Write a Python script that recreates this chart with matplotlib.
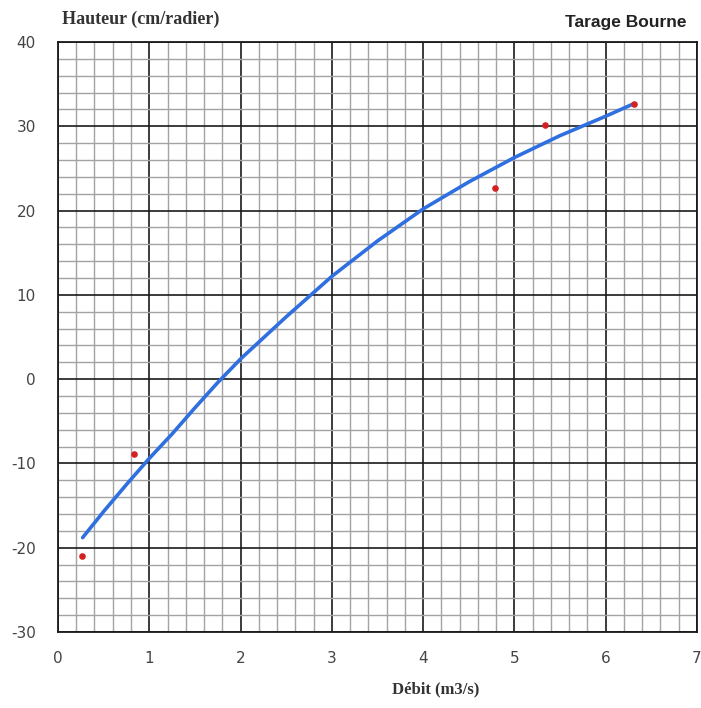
import numpy as np
import matplotlib
matplotlib.use("Agg")
import matplotlib.pyplot as plt
from matplotlib.ticker import MultipleLocator

plt.rcParams['axes.unicode_minus'] = False

# measured points (debit m3/s, hauteur cm)
debit_mesure = [0.26, 0.83, 4.79, 5.34, 6.31]
hauteur_mesure = [-21.0, -8.9, 22.7, 30.1, 32.7]

# calibration curve
debit_courbe = [0.27, 0.5, 0.75, 1.0, 1.25, 1.5, 1.75, 2.0, 2.5, 3.0, 3.5,
                4.0, 4.5, 5.0, 5.5, 6.0, 6.31]
hauteur_courbe = [-18.8, -15.7, -12.5, -9.4, -6.5, -3.4, -0.4, 2.4, 7.4, 12.2,
                  16.4, 20.2, 23.4, 26.3, 28.9, 31.2, 32.7]

x_ticks = [0, 1, 2, 3, 4, 5, 6, 7]
y_ticks = [-30, -20, -10, 0, 10, 20, 30, 40]

fig = plt.figure(figsize=(7.01, 7.08), dpi=100)
ax = fig.add_axes([0.0827, 0.1073, 0.9116, 0.8333])

ax.set_xlim(0, 7)
ax.set_ylim(-30, 40)
ax.set_xticks(x_ticks)
ax.set_yticks(y_ticks)
ax.xaxis.set_minor_locator(MultipleLocator(0.2))
ax.yaxis.set_minor_locator(MultipleLocator(2))

ax.grid(which='minor', color='#a3a3a3', linewidth=1.0)
ax.grid(which='major', color='#1a1a1a', linewidth=1.2)
ax.set_axisbelow(True)

ax.tick_params(which='both', length=0, labelsize=11, labelcolor='#444444')
ax.tick_params(axis='x', pad=14)
ax.tick_params(axis='y', pad=16)
for s in ax.spines.values():
    s.set_color('#1a1a1a')
    s.set_linewidth(1.3)

ax.plot(debit_courbe, hauteur_courbe, color='#2f6fe0', linewidth=2.6,
        solid_capstyle='round', zorder=3)
ax.scatter(debit_mesure, hauteur_mesure, color='#d42020', s=14, zorder=4)

fig.text(0.088, 0.973, 'Hauteur (cm/radier)', family='Liberation Serif',
         fontweight='bold', fontsize=13, color='#333333', ha='left', va='center')
fig.text(0.979, 0.968, 'Tarage Bourne', family='Liberation Sans',
         fontweight='bold', fontsize=12.5, color='#222222', ha='right', va='center')
fig.text(0.621, 0.026, 'Débit (m3/s)', family='Liberation Serif',
         fontweight='bold', fontsize=12, color='#333333', ha='center', va='center')

fig.savefig('out.png', dpi=100, facecolor='white')
